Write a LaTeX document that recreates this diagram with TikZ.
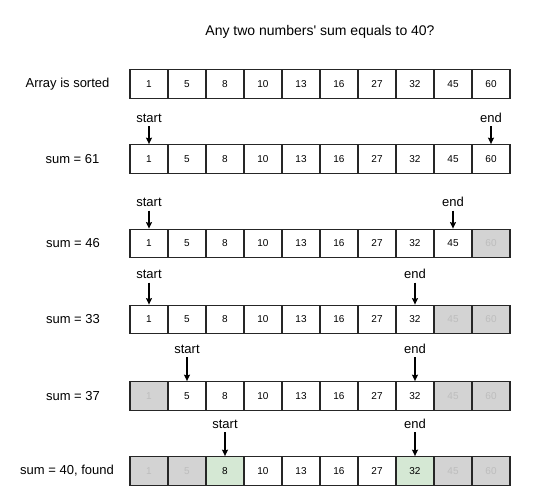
\documentclass[tikz,border=0pt]{standalone}
\usepackage{fontspec}
\usepackage{xcolor}
\setmainfont{Liberation Sans}
\usetikzlibrary{arrows.meta,positioning}

\definecolor{donegray}{HTML}{D3D3D3}
\definecolor{donetext}{HTML}{BDBDBD}
\definecolor{foundgreen}{HTML}{D5E8D4}

\begin{document}
\begin{tikzpicture}[x=1pt, y=-1pt,
    cell/.style={rectangle, draw=black!85, line width=1.3pt, minimum width=38pt,
        minimum height=28.5pt, inner sep=0pt, font=\fontsize{10}{12}\selectfont},
    gone/.style={cell, fill=donegray, text=donetext},
    hit/.style={cell, fill=foundgreen},
    lbl/.style={font=\fontsize{13}{15}\selectfont},
    ptr/.style={-{Stealth[length=6.5pt, width=6pt, inset=1pt]}, line width=1.2pt}]
    \useasboundingbox (0,0) rectangle (542,500);

    \node[font=\fontsize{14}{16}\selectfont] (title) at (320,32)
        {Any two numbers\textquotesingle{} sum equals to 40?};

    % the six arrays
    \foreach \row/\y/\lo/\hi in {1/84/1/10, 2/159/1/10, 3/243.5/1/9,
                                 4/319.5/1/8, 5/396/2/8, 6/471/3/8} {
        \foreach \v [count=\k] in {1,5,8,10,13,16,27,32,45,60} {
            \tikzset{cur/.style={cell}}
            \ifnum\k<\lo \tikzset{cur/.style={gone}}\fi
            \ifnum\k>\hi \tikzset{cur/.style={gone}}\fi
            \ifnum\row=6
                \ifnum\k=\lo \tikzset{cur/.style={hit}}\fi
                \ifnum\k=\hi \tikzset{cur/.style={hit}}\fi
            \fi
            \node[cur] (r\row c\k) at ({111+38*\k},\y) {\v};
        }
    }

    % row labels
    \node[lbl] (l1) at (67.5,84) {Array is sorted};
    \node[lbl] (l2) at (72.5,159) {sum = 61};
    \node[lbl] (l3) at (73,243.5) {sum = 46};
    \node[lbl] (l4) at (73,319.5) {sum = 33};
    \node[lbl] (l5) at (73,396) {sum = 37};
    \node[lbl] (l6) at (67,471) {sum = 40, found};

    % pointers
    \node[lbl, above=18pt of r2c1] (s2) {start};
    \node[lbl, above=18pt of r2c10] (e2) {end};
    \node[lbl, above=18pt of r3c1] (s3) {start};
    \node[lbl, above=18pt of r3c9] (e3) {end};
    \node[lbl, above=22pt of r4c1] (s4) {start};
    \node[lbl, above=22pt of r4c8] (e4) {end};
    \node[lbl, above=24pt of r5c2] (s5) {start};
    \node[lbl, above=24pt of r5c8] (e5) {end};
    \node[lbl, above=24pt of r6c3] (s6) {start};
    \node[lbl, above=24pt of r6c8] (e6) {end};

    \draw[ptr] (s2) -- (r2c1);
    \draw[ptr] (e2) -- (r2c10);
    \draw[ptr] (s3) -- (r3c1);
    \draw[ptr] (e3) -- (r3c9);
    \draw[ptr] (s4) -- (r4c1);
    \draw[ptr] (e4) -- (r4c8);
    \draw[ptr] (s5) -- (r5c2);
    \draw[ptr] (e5) -- (r5c8);
    \draw[ptr] (s6) -- (r6c3);
    \draw[ptr] (e6) -- (r6c8);
\end{tikzpicture}
\end{document}
